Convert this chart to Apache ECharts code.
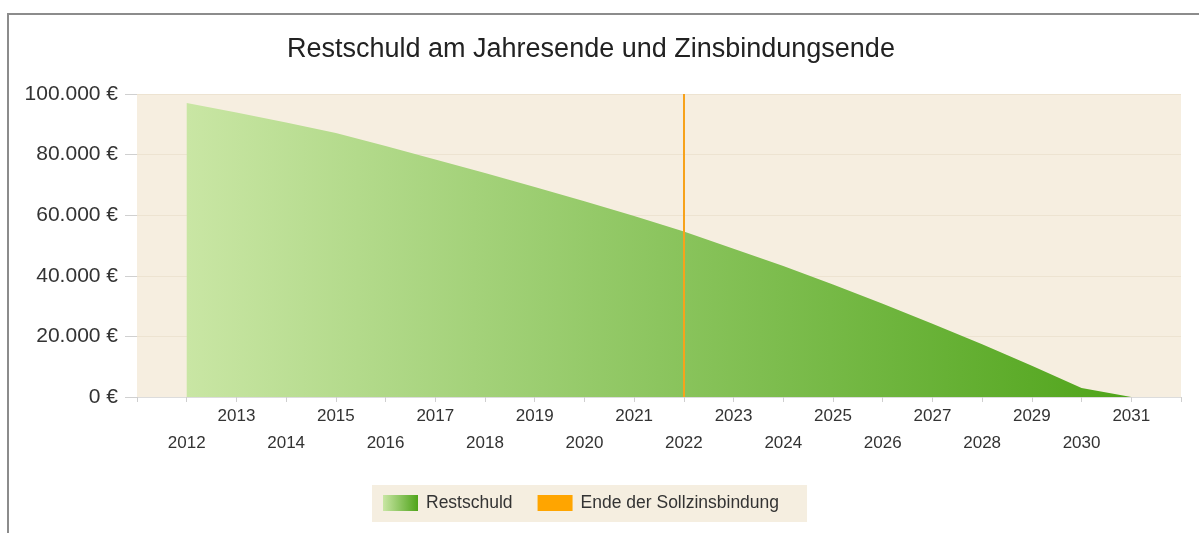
<!DOCTYPE html>
<html>
<head>
<meta charset="utf-8">
<script src="https://cdn.jsdelivr.net/npm/echarts@6/dist/echarts.min.js"></script>
<style>
  html, body { margin: 0; padding: 0; background: #fff; }
  #chart { width: 1199px; height: 533px; }
</style>
</head>
<body>
<div id="chart"></div>
<script>
// data
const years = [2012, 2013, 2014, 2015, 2016, 2017, 2018, 2019, 2020, 2021,
  2022, 2023, 2024, 2025, 2026, 2027, 2028, 2029, 2030, 2031]
const restschuld = [97000, 93900, 90600, 87100, 82800, 78400, 73900, 69300, 64600, 59700,
  54600, 48900, 43200, 37100, 30800, 24200, 17400, 10300, 3000, 0]
const zinsbindungsEnde = 2022
const yTicks = [0, 20000, 40000, 60000, 80000, 100000]

const font = '"Liberation Sans", Arial, Helvetica, sans-serif'
const green = new echarts.graphic.LinearGradient(0, 0, 1, 0, [
  { offset: 0, color: '#c9e6a4' },
  { offset: 1, color: '#4fa41a' },
])
const orange = '#f7a21b'

const euro = (v) => String(v).replace(/\B(?=(\d{3})+(?!\d))/g, '.') + ' €'

const chart = echarts.init(document.getElementById('chart'))
chart.setOption({
  animation: false,
  textStyle: { fontFamily: font },
  title: {
    text: 'Restschuld am Jahresende und Zinsbindungsende',
    left: 282,
    top: 31,
    textStyle: { fontSize: 27, fontWeight: 'normal', color: '#222', fontFamily: font },
  },
  graphic: [
    {
      type: 'rect',
      z: -10,
      shape: { x: 8, y: 14, width: 1400, height: 800 },
      style: { fill: null, stroke: '#8c8c8c', lineWidth: 2 },
    },
  ],
  grid: {
    left: 137,
    right: 18,
    top: 94,
    bottom: 136,
    show: true,
    backgroundColor: '#f6eee0',
    borderWidth: 0,
  },
  legend: {
    left: 372,
    top: 485,
    padding: [9, 28, 10, 11],
    backgroundColor: '#f5eee0',
    itemWidth: 35,
    itemHeight: 16,
    itemGap: 25,
    icon: 'rect',
    textStyle: { fontSize: 17.5, color: '#333', fontFamily: font, padding: [0, 0, 0, 3] },
    data: ['Restschuld', 'Ende der Sollzinsbindung'],
  },
  xAxis: {
    type: 'value',
    min: 2011,
    max: 2032,
    interval: 1,
    axisLine: { show: true, lineStyle: { color: '#dcdcdc' } },
    axisTick: { show: true, length: 5, lineStyle: { color: '#cfcfcf' } },
    splitLine: { show: false },
    axisLabel: {
      margin: 6,
      fontSize: 17,
      lineHeight: 27,
      color: '#333',
      formatter: (v) => (v < years[0] || v > years[years.length - 1]) ? '' : (v % 2 === 0 ? '\n' + v : '' + v),
    },
  },
  yAxis: {
    type: 'value',
    min: yTicks[0],
    max: yTicks[yTicks.length - 1],
    interval: yTicks[1] - yTicks[0],
    axisLine: { show: false },
    axisTick: { show: true, length: 12, lineStyle: { color: '#d0d0d0' } },
    splitLine: { show: true, lineStyle: { color: '#ede3d1' } },
    axisLabel: { margin: 19, fontSize: 21, color: '#333', formatter: euro },
  },
  series: [
    {
      name: 'Restschuld',
      type: 'line',
      data: years.map((y, i) => [y, restschuld[i]]),
      showSymbol: false,
      symbol: 'none',
      lineStyle: { width: 0 },
      itemStyle: { color: green },
      areaStyle: { color: green, opacity: 1 },
    },
    {
      name: 'Ende der Sollzinsbindung',
      type: 'line',
      data: [],
      itemStyle: { color: '#ffa500' },
      markLine: {
        silent: true,
        symbol: 'none',
        label: { show: false },
        lineStyle: { color: orange, width: 2, type: 'solid' },
        data: [{ xAxis: zinsbindungsEnde }],
      },
    },
  ],
})
</script>
</body>
</html>
